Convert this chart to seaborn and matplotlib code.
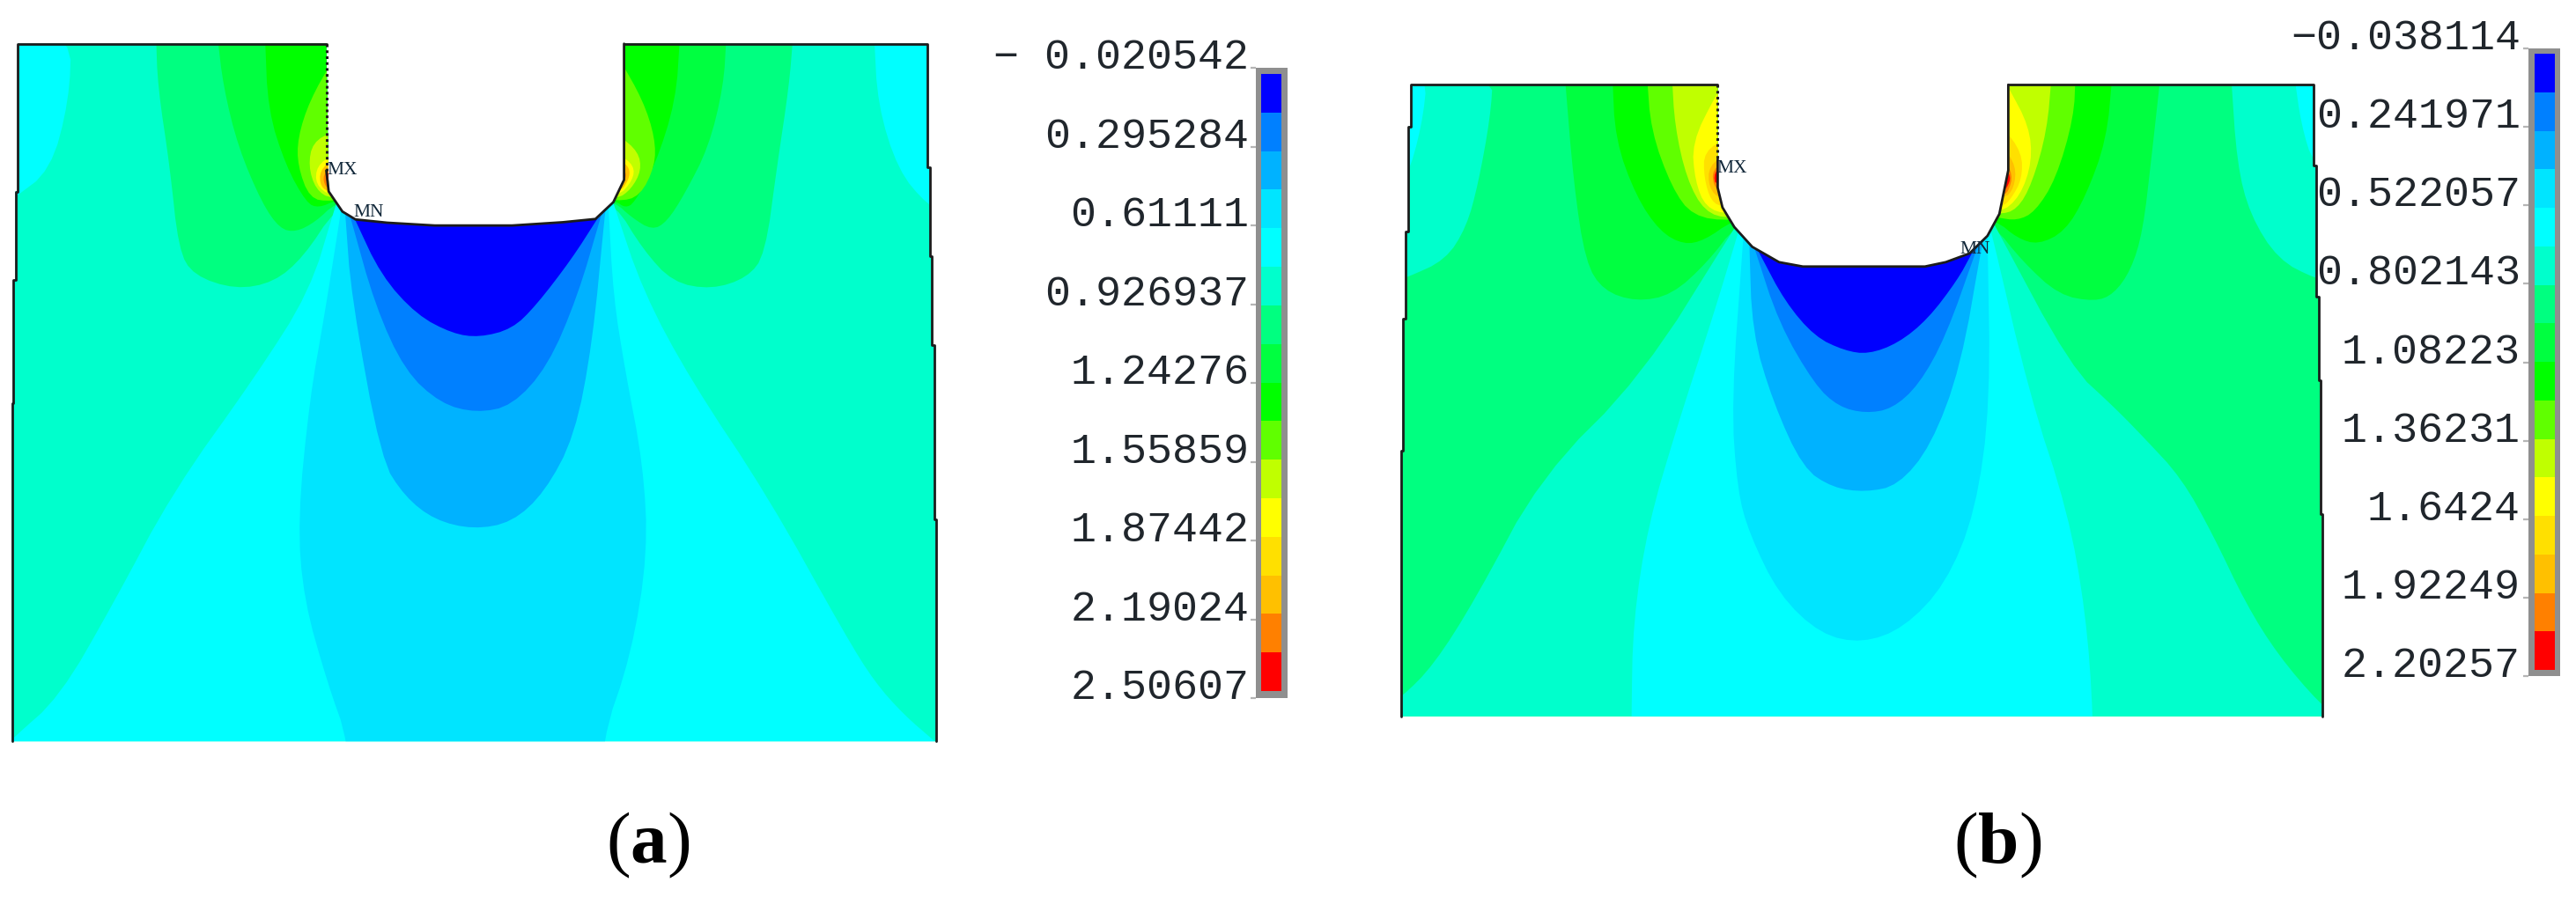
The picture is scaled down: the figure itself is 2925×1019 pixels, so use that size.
import numpy as np
import seaborn as sns
import matplotlib
matplotlib.use("Agg")
import matplotlib.pyplot as plt
from matplotlib.colors import ListedColormap
from matplotlib.patches import Polygon

W, H = 2925, 1020

# contour bands of the legend, top to bottom
BAND_COLORS = ["#0000ff", "#0080ff", "#00b2ff", "#00e5ff", "#00ffff", "#00ffcc", "#00ff80", "#00ff40",
               "#00ff00", "#60ff00", "#c0ff00", "#ffff00", "#ffe000", "#ffc000", "#ff8000", "#ff0000"]
BAND_INDEX = list(range(16))
LABELS_A = ["\u2212 0.020542", "0.295284", "0.61111", "0.926937", "1.24276", "1.55859", "1.87442", "2.19024", "2.50607"]
LABELS_B = ["\u22120.038114", "0.241971", "0.522057", "0.802143", "1.08223", "1.36231", "1.6424", "1.92249", "2.20257"]

# panel (a) outline
A_LEFT = [(20, 1555), (20, 830), (22, 830), (22, 565), (26, 565), (26, 375), (30, 375), (30, 58), (548, 58)]
A_WALL_L = [(548, 58), (548, 330)]
A_FLOOR = [(548, 330), (552, 375), (575, 418), (597, 435), (650, 442), (730, 448), (860, 448), (945, 441),
           (1000, 434), (1030, 398), (1048, 350), (1048, 58)]
A_RIGHT = [(1048, 58), (1557, 58), (1557, 323), (1562, 323), (1562, 514), (1565, 514), (1565, 705),
           (1569, 705), (1569, 1079), (1572, 1079), (1572, 1555)]

# panel (a) contour regions
A_CYAN_TL = [(20, 40), (120, 40), (116, 180), (85, 330), (20, 392)]
A_CYAN_TR = [(1468, 40), (1474, 189), (1508, 329), (1557, 404), (1600, 430), (1600, 40)]
A_LOBE1_L = [(262, 40), (265, 150), (285, 320), (300, 500), (325, 555), (395, 585), (460, 570), (510, 515), (563, 412), (620, 380), (620, 40)]
A_LOBE1_R = [(1332, 40), (1325, 150), (1305, 320), (1285, 510), (1255, 560), (1195, 585), (1130, 570), (1080, 500), (1033, 402), (980, 380), (980, 40)]
A_LOBE2_L = [(365, 40), (375, 150), (400, 280), (440, 400), (470, 455), (497, 462), (530, 440), (563, 400), (620, 380), (620, 40)]
A_LOBE2_R = [(1220, 40), (1215, 150), (1190, 280), (1150, 380), (1120, 440), (1095, 458), (1060, 430), (1033, 398), (980, 380), (980, 40)]
A_LOBE3_L = [(445, 40), (450, 200), (480, 320), (515, 400), (535, 410), (563, 395), (620, 380), (620, 40)]
A_LOBE3_R = [(1142, 40), (1135, 180), (1100, 320), (1065, 400), (1050, 410), (1033, 395), (980, 380), (980, 40)]
A_LIME_L = [(560, 90), (520, 180), (500, 260), (500, 320), (520, 390), (556, 397), (620, 380), (620, 90)]
A_LIME_R = [(1040, 90), (1080, 180), (1100, 260), (1100, 320), (1075, 385), (1038, 397), (980, 380), (980, 90)]
A_YG_L = [(560, 245), (525, 270), (518, 320), (530, 370), (556, 392), (620, 380), (620, 245)]
A_YG_R = [(1040, 255), (1072, 290), (1077, 330), (1060, 370), (1036, 392), (980, 380), (980, 255)]
A_Y_L = [(560, 295), (532, 320), (530, 360), (556, 386), (620, 380), (620, 295)]
A_Y_R = [(1040, 295), (1065, 320), (1063, 350), (1038, 387), (980, 380), (980, 295)]
A_AMB_L = [(560, 305), (537, 330), (538, 365), (556, 378), (620, 378), (620, 305)]
A_AMB_R = [(1040, 305), (1058, 325), (1056, 350), (1040, 378), (980, 378), (980, 305)]
A_ORG_L = [(560, 316), (542, 340), (546, 365), (556, 368), (620, 368), (620, 316)]
A_ORG_R = [(1040, 316), (1052, 335), (1050, 350), (1040, 365), (980, 365), (980, 316)]
A_RED_L = [(560, 322), (545, 345), (552, 358), (620, 358), (620, 322)]
A_RED_R = [(1040, 325), (1048, 340), (1046, 355), (1040, 362), (980, 362), (980, 325)]
A_CYAN = [(575, 360), (562, 412), (520, 590), (430, 770), (290, 1020), (190, 1260), (100, 1460), (20, 1550), (-10, 1590), (-10, 1800),
          (1640, 1800), (1600, 1590), (1570, 1555), (1518, 1498), (1469, 1428), (1420, 1328), (1290, 1030), (1160, 780), (1080, 590), (1030, 400), (1015, 340), (800, 340)]
A_BLUE1 = [(578, 370), (572, 422), (545, 640), (520, 820), (500, 1080), (510, 1250), (550, 1430), (585, 1555), (600, 1800),
           (1000, 1800), (1010, 1555), (1060, 1370), (1088, 1150), (1080, 960), (1050, 760), (1030, 600), (1022, 410), (1020, 370), (800, 340)]
A_BLUE2 = [(578, 390), (580, 426), (590, 600), (640, 950), (680, 1030), (730, 1080), (795, 1100), (860, 1085), (915, 1020),
           (965, 900), (995, 700), (1016, 420), (1020, 385), (800, 340)]
A_BLUE3 = [(578, 385), (588, 428), (630, 620), (680, 760), (740, 830), (800, 850), (860, 835), (920, 750), (970, 600), (1010, 425), (1020, 380), (800, 340)]
A_BLUE4 = [(580, 390), (595, 432), (640, 555), (700, 640), (760, 680), (805, 688), (860, 670), (900, 620), (960, 520), (1003, 434), (1022, 396), (800, 340)]

# panel (b) outline
B_LEFT = [(75, 1517), (75, 910), (78, 910), (78, 610), (83, 610), (83, 410), (88, 410), (88, 170), (92, 170), (92, 75), (607, 75)]
B_WALL_L = [(607, 75), (607, 245)]
B_FLOOR = [(607, 245), (607, 310), (615, 355), (635, 400), (665, 445), (710, 480), (750, 490), (955, 490),
           (990, 480), (1030, 460), (1060, 420), (1080, 370), (1095, 270), (1095, 75)]
B_RIGHT = [(1095, 75), (1608, 75), (1608, 259), (1612, 259), (1612, 559), (1617, 559), (1617, 750),
           (1619, 750), (1619, 1055), (1622, 1055), (1622, 1517)]

# panel (b) contour regions
B_CYAN_TL = [(60, 50), (120, 50), (110, 170), (85, 290), (60, 310)]
B_CYAN_TR = [(1575, 50), (1587, 167), (1608, 259), (1650, 259), (1650, 50)]
B_TEAL_TL = [(60, 50), (230, 50), (225, 150), (205, 300), (185, 400), (150, 475), (85, 515), (60, 525)]
B_TEAL_TR = [(1469, 50), (1479, 255), (1501, 372), (1548, 474), (1612, 519), (1650, 525), (1650, 50)]
B_LOBE1_L = [(350, 50), (365, 300), (385, 480), (415, 545), (470, 570), (530, 555), (590, 480), (638, 395), (700, 360), (700, 50)]
B_LOBE1_R = [(1351, 50), (1336, 235), (1321, 410), (1301, 498), (1272, 553), (1240, 570), (1180, 555), (1120, 480), (1068, 392), (1000, 360), (1000, 50)]
B_LOBE2_L = [(430, 50), (435, 200), (470, 330), (510, 410), (550, 440), (585, 430), (632, 385), (700, 360), (700, 50)]
B_LOBE2_R = [(1270, 50), (1260, 200), (1225, 330), (1190, 410), (1145, 440), (1110, 425), (1075, 385), (1000, 360), (1000, 50)]
B_LIME_L = [(488, 50), (495, 180), (530, 310), (565, 375), (630, 387), (700, 360), (700, 50)]
B_LIME_R = [(1208, 50), (1205, 150), (1175, 290), (1140, 365), (1110, 385), (1076, 378), (1000, 360), (1000, 50)]
B_YG_L = [(530, 50), (535, 170), (555, 290), (585, 365), (628, 382), (700, 360), (700, 50)]
B_YG_R = [(1168, 50), (1160, 180), (1135, 300), (1110, 360), (1078, 372), (1000, 360), (1000, 50)]
B_Y_L = [(625, 60), (603, 100), (564, 207), (569, 295), (587, 355), (625, 372), (700, 360), (700, 60)]
B_Y_R = [(1085, 60), (1095, 80), (1130, 170), (1135, 250), (1115, 330), (1080, 370), (1000, 360), (1000, 60)]
B_AMB_L = [(625, 195), (584, 227), (584, 287), (596, 342), (618, 355), (700, 355), (700, 195)]
B_AMB_R = [(1085, 170), (1118, 230), (1118, 290), (1100, 335), (1084, 355), (1000, 355), (1000, 170)]
B_GOLD_L = [(625, 230), (592, 260), (592, 310), (612, 338), (700, 338), (700, 230)]
B_GOLD_R = [(1085, 215), (1108, 260), (1105, 310), (1088, 337), (1000, 337), (1000, 215)]
B_ORG_L = [(625, 240), (598, 270), (600, 305), (612, 318), (700, 318), (700, 240)]
B_ORG_R = [(1085, 240), (1103, 280), (1095, 320), (1085, 326), (1000, 326), (1000, 240)]
B_RED_L = [(625, 245), (600, 275), (604, 310), (700, 310), (700, 245)]
B_RED_R = [(1085, 255), (1100, 285), (1093, 310), (1085, 318), (1000, 318), (1000, 255)]
B_TEAL = [(660, 350), (636, 400), (480, 740), (310, 970), (200, 1250), (130, 1400), (75, 1475), (40, 1500), (40, 1800), (1660, 1800), (1660, 1530),
          (1619, 1490), (1548, 1377), (1494, 1260), (1439, 1103), (1386, 973), (1321, 878), (1272, 810), (1200, 720), (1070, 390), (1050, 340), (850, 340)]
B_CYAN = [(650, 370), (642, 410), (600, 600), (540, 850), (490, 1080), (465, 1300), (462, 1517), (462, 1800), (1238, 1800), (1238, 1517), (1225, 1280),
          (1195, 1050), (1130, 780), (1065, 400), (1055, 360), (850, 340)]
B_BLUE1 = [(652, 380), (650, 425), (630, 800), (640, 1000), (660, 1100), (710, 1240), (780, 1330), (850, 1350), (920, 1315),
           (990, 1215), (1040, 1050), (1065, 800), (1060, 415), (1060, 370), (850, 340)]
B_BLUE2 = [(660, 400), (660, 435), (665, 640), (700, 800), (750, 950), (800, 995), (855, 1005), (910, 990), (965, 900), (1015, 720), (1052, 430), (1060, 390), (850, 340)]
B_BLUE3 = [(660, 410), (668, 445), (710, 620), (770, 760), (810, 810), (855, 825), (900, 815), (945, 760), (990, 650), (1042, 450), (1055, 400), (850, 340)]
B_BLUE4 = [(662, 420), (678, 462), (720, 570), (770, 650), (820, 682), (860, 690), (910, 665), (960, 610), (1010, 520), (1033, 462), (1050, 420), (850, 340)]

sns.set_theme(style="white")
plt.rcParams["mathtext.fontset"] = "custom"
plt.rcParams["mathtext.rm"] = "Liberation Serif"
plt.rcParams["mathtext.bf"] = "Liberation Serif:bold"


def chaikin(points, rounds=2):
    # rounds off the corners of a traced contour, ends stay put
    pts = np.array(points, dtype=float)
    for _ in range(rounds):
        q = pts[:-1] * 0.75 + pts[1:] * 0.25
        r = pts[:-1] * 0.25 + pts[1:] * 0.75
        mid = np.empty((len(q) * 2, 2))
        mid[0::2] = q
        mid[1::2] = r
        pts = np.vstack([pts[0], mid, pts[-1]])
    return pts


def px_axes(fig, x0, y0, x1, y1):
    return fig.add_axes([x0 / W, 1 - y1 / H, (x1 - x0) / W, (y1 - y0) / H])


def draw_panel(fig, box, sx, sy, offset, base, layers, outline, wall, mx, mn):
    ax = px_axes(fig, *box)
    ax.patch.set_alpha(0)
    domain_pts = outline[0] + outline[2][1:] + outline[3][1:]
    domain = Polygon(domain_pts, closed=True, facecolor=BAND_COLORS[base], edgecolor="none")
    ax.add_patch(domain)
    for band, pts in layers:
        xy = chaikin(pts)
        poly = ax.fill(xy[:, 0], xy[:, 1], color=BAND_COLORS[band], lw=0)[0]
        poly.set_clip_path(domain)
    for seg in [outline[0], outline[2], outline[3]]:
        xs, ys = zip(*seg)
        sns.lineplot(x=list(xs), y=list(ys), sort=False, estimator=None, color="#1c1c1c", lw=2.0, ax=ax)
    xs, ys = zip(*wall)
    sns.lineplot(x=list(xs), y=list(ys), sort=False, estimator=None, color="#1c1c1c", lw=2.2, ls=(0, (1, 1.2)), ax=ax)
    for name, (tx, ty) in [("MX", mx), ("MN", mn)]:
        ax.text(tx, ty, name, family="Liberation Serif", fontsize=15.5, color="#12283a", va="center", ha="left")
    ax.set_xlim(0, (box[2] - box[0]) * sx)
    ax.set_ylim((box[3] - offset) * sy, (box[1] - offset) * sy)
    ax.axis("off")
    return ax


def draw_legend(fig, frame, cells, labels, pad):
    ax = px_axes(fig, *frame)
    ax.set_facecolor("#8f8f8f")
    grid = np.array(BAND_INDEX).reshape(-1, 1)
    sns.heatmap(grid, cmap=ListedColormap(BAND_COLORS), vmin=-0.5, vmax=15.5, cbar=False,
                xticklabels=False, yticklabels=False, ax=ax)
    cell_h = (cells[3] - cells[1]) / len(BAND_INDEX)
    cell_w = cells[2] - cells[0]
    top = -(cells[1] - frame[1]) / cell_h
    bottom = len(BAND_INDEX) + (frame[3] - cells[3]) / cell_h
    ax.set_xlim(-(cells[0] - frame[0]) / cell_w, 1 + (frame[2] - cells[2]) / cell_w)
    ax.set_ylim(bottom, top)
    ax.set_yticks(np.linspace(top, bottom, len(labels)))
    ax.set_yticklabels(labels, family="Liberation Mono", fontsize=34.8, color="#20262c", va="baseline", rotation=0)
    ax.tick_params(axis="y", left=True, length=4.5, width=1.6, color="#b5b5b5", pad=pad)
    for s in ax.spines.values():
        s.set_visible(False)
    return ax


fig = plt.figure(figsize=(W / 100, H / 100), dpi=100, facecolor="white")

layers_a = [(4, A_CYAN_TL), (4, A_CYAN_TR), (6, A_LOBE1_L), (6, A_LOBE1_R), (7, A_LOBE2_L), (7, A_LOBE2_R),
            (8, A_LOBE3_L), (8, A_LOBE3_R), (9, A_LIME_L), (9, A_LIME_R), (10, A_YG_L), (10, A_YG_R),
            (11, A_Y_L), (11, A_Y_R), (13, A_AMB_L), (13, A_AMB_R), (14, A_ORG_L), (14, A_ORG_R),
            (15, A_RED_L), (15, A_RED_R), (4, A_CYAN), (3, A_BLUE1), (2, A_BLUE2), (1, A_BLUE3), (0, A_BLUE4)]
draw_panel(fig, (0, 20, 1095, 850), 1.479, 1.889, 20, 5, layers_a,
           (A_LEFT, A_WALL_L, A_FLOOR, A_RIGHT), A_WALL_L, (550, 328), (594, 418))

layers_b = [(5, B_TEAL_TL), (5, B_TEAL_TR), (4, B_CYAN_TL), (4, B_CYAN_TR), (7, B_LOBE1_L), (7, B_LOBE1_R),
            (8, B_LOBE2_L), (8, B_LOBE2_R), (9, B_LIME_L), (9, B_LIME_R), (10, B_YG_L), (10, B_YG_R),
            (11, B_Y_L), (11, B_Y_R), (12, B_AMB_L), (12, B_AMB_R), (13, B_GOLD_L), (13, B_GOLD_R),
            (14, B_ORG_L), (14, B_ORG_R), (15, B_RED_L), (15, B_RED_R),
            (5, B_TEAL), (4, B_CYAN), (3, B_BLUE1), (2, B_BLUE2), (1, B_BLUE3), (0, B_BLUE4)]
draw_panel(fig, (1540, 60, 2660, 840), 1.479, 2.01, 60, 6, layers_b,
           (B_LEFT, B_WALL_L, B_FLOOR, B_RIGHT), B_WALL_L, (605, 265), (1014, 450))

draw_legend(fig, (1426, 78, 1462, 794), (1432, 85, 1455, 786), LABELS_A, 1)
draw_legend(fig, (2871, 56, 2907, 769), (2878, 62, 2901, 762), LABELS_B, 2)

fig.text(736 / W, 1 - 980 / H, r"($\mathbf{a}$)", family="Liberation Serif", fontsize=60, color="black",
         ha="center", va="baseline")
fig.text(2268 / W, 1 - 980 / H, r"($\mathbf{b}$)", family="Liberation Serif", fontsize=60, color="black",
         ha="center", va="baseline")

fig.savefig("out.png", dpi=100)
